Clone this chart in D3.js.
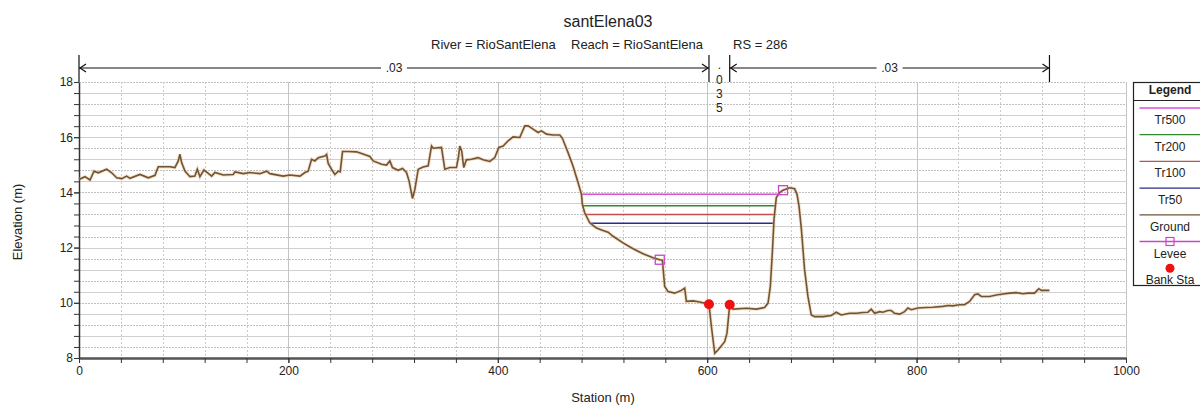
<!DOCTYPE html>
<html>
<head>
<meta charset="utf-8">
<script src="https://cdn.jsdelivr.net/npm/d3@7"></script>
<style>
body { margin: 0; background: #fff; }
svg { font-family: "Liberation Sans", Arial, sans-serif; }
</style>
</head>
<body>
<div id="chart"></div>
<script>
// ground profile (station m, elevation m)
const groundStation = [0, 5.7, 10.5, 14.3, 18.4, 26.4, 31.2, 36, 40.8, 45.5, 48.7, 58.2, 66.2, 72.6, 75.7, 86.9, 91.6, 94.8, 96.4, 98,
  101.2, 106, 110.7, 113, 115.5, 119.3, 123.5, 126.7, 129.8, 137.8, 147.3, 148.9, 156.9, 163.2, 172.8, 179.2, 182.3, 195, 201.4, 211,
  215.8, 218.9, 222.1, 225.3, 228.5, 234.8, 236.5, 238, 241.2, 244.4, 247.6, 249.5, 251.7, 257.1, 265, 269.9, 277.8, 281, 289, 293.7,
  296.9, 299.4, 304.8, 309, 312.8, 315.3, 318.5, 320.8, 324, 328.7, 333.5, 336.7, 338.3, 346.2, 349.4, 354.2, 360.5, 362.5, 363.7, 365.5,
  367.5, 370, 374.9, 381.2, 386, 392.4, 397.1, 401, 405.1, 409.9, 414.6, 421, 425.8, 429, 433.7, 438.5, 441.7, 446.5, 452.8, 459.2,
  461.7, 467.1, 471.9, 476.7, 479.9, 480.8, 483, 487.8, 494.2, 500.5, 505.3, 510.1, 519.6, 529.2, 538.7, 548.3, 554.7, 557.2, 559.4, 562.6,
  569, 575.3, 578.5, 580.1, 586.5, 592.8, 601.7, 604, 607.2, 610.3, 616.7, 618.9, 621.5, 624.7, 637.4, 647, 654.9, 658.1, 660.3, 662.2,
  663.8, 666, 669.2, 672.4, 678.8, 683.5, 685.8, 687.7, 690, 693, 696.2, 699.4, 702.6, 710.6, 718.5, 723.3, 728.1, 736, 742.4, 748.7,
  753.5, 756.7, 759.9, 764.7, 767.8, 772.6, 775.8, 779, 783.8, 788.5, 791.7, 794.9, 801.3, 809.2, 815.6, 825.1, 829.9, 834.6, 841, 845.8,
  850.6, 855.4, 858.5, 861.8, 869.7, 876.1, 882.4, 888.8, 895.2, 901.5, 906.3, 912.6, 916.8, 919, 926.9]
const groundElev = [14.47, 14.57, 14.45, 14.77, 14.71, 14.84, 14.71, 14.53, 14.5, 14.59, 14.51, 14.65, 14.53, 14.62, 14.93, 14.93, 14.9, 15.14, 15.38, 15.08,
  14.77, 14.57, 14.59, 14.84, 14.57, 14.81, 14.69, 14.59, 14.72, 14.63, 14.65, 14.74, 14.68, 14.72, 14.68, 14.77, 14.68, 14.59, 14.63, 14.59,
  14.72, 14.77, 15.2, 15.14, 15.26, 15.32, 15.38, 15.05, 14.84, 14.65, 14.77, 14.75, 15.48, 15.48, 15.47, 15.41, 15.3, 15.14, 15.02, 14.99,
  15.14, 14.9, 14.8, 14.87, 14.72, 14.41, 13.78, 14.11, 14.84, 14.92, 14.96, 15.68, 15.6, 15.63, 14.84, 14.9, 14.9, 15.3, 15.68, 15.5,
  14.9, 15.18, 15.2, 15.26, 15.18, 15.12, 15.26, 15.63, 15.68, 15.87, 16.01, 15.99, 16.41, 16.41, 16.29, 16.17, 16.23, 16.11, 16.08, 16.08,
  15.96, 15.44, 14.95, 14.35, 13.93, 13.56, 13.26, 12.9, 12.71, 12.62, 12.56, 12.41, 12.17, 11.96, 11.78, 11.63, 11.56, 11.54, 10.59, 10.41,
  10.35, 10.45, 10.53, 10.05, 10.07, 10.03, 9.95, 9.14, 8.17, 8.29, 8.59, 8.9, 9.93, 9.77, 9.8, 9.77, 9.83, 9.99, 10.59, 11.81,
  13.02, 13.81, 13.99, 14.08, 14.17, 14.13, 13.93, 13.5, 12.65, 11.2, 10.23, 9.56, 9.5, 9.5, 9.54, 9.66, 9.56, 9.62, 9.62, 9.65,
  9.66, 9.77, 9.62, 9.68, 9.66, 9.72, 9.72, 9.62, 9.59, 9.68, 9.81, 9.75, 9.81, 9.83, 9.84, 9.87, 9.9, 9.89, 9.93, 9.93,
  10.05, 10.29, 10.32, 10.23, 10.23, 10.28, 10.32, 10.35, 10.37, 10.33, 10.35, 10.35, 10.51, 10.45, 10.45]

// water surface profiles
const profileNames = ['Tr500', 'Tr200', 'Tr100', 'Tr50']
const profileWS = [13.93, 13.52, 13.2, 12.88]
const profileColors = ['#d84fd8', '#2e8a2e', '#c0504d', '#2b2b88']

const leveeStation = [554.7, 672.4]
const leveeElev = [11.56, 14.08]
const bankStation = [601.7, 621.5]
const nBreaks = [0, 601.7, 621.5, 926.9]
const nValues = ['.03', '.035', '.03']

const xTicks = [0, 200, 400, 600, 800, 1000]
const yTicks = [8, 10, 12, 14, 16, 18]

const width = 1200, height = 405
const groundColor = '#6f5536'

const svg = d3.select('#chart').append('svg')
  .attr('width', width)
  .attr('height', height)

const x = d3.scaleLinear().domain([0, 1000]).range([79, 1126])
const y = d3.scaleLinear().domain([8, 18]).range([358, 82])

const ground = groundStation.map((s, i) => ({ s: s, e: groundElev[i] }))
const groundAt = s => {
  const i = d3.bisector(d => d.s).left(ground, s)
  if (i <= 0) return ground[0].e
  if (i >= ground.length) return ground[ground.length - 1].e
  const a = ground[i - 1], b = ground[i]
  return a.e + (b.e - a.e) * (s - a.s) / (b.s - a.s)
}

// grid
const xMinor = d3.range(0, 1001, 40)
const yMinor = d3.range(0, 26).map(i => 8 + i * 0.4)
const grid = svg.append('g')
grid.selectAll('.hg').data(yMinor).enter().append('line')
  .attr('x1', x(0)).attr('x2', x(1000))
  .attr('y1', d => Math.round(y(d)) + 0.5).attr('y2', d => Math.round(y(d)) + 0.5)
  .attr('stroke', (d, i) => i % 2 ? '#c0c0c0' : '#d0d0d0')
  .attr('stroke-dasharray', (d, i) => i % 2 ? '2,1' : null)
grid.selectAll('.vg').data(xMinor).enter().append('line')
  .attr('y1', y(18)).attr('y2', y(8))
  .attr('x1', d => Math.round(x(d)) + 0.5).attr('x2', d => Math.round(x(d)) + 0.5)
  .attr('stroke', (d, i) => i % 5 === 0 ? '#c4c4c4' : '#cacaca')
  .attr('stroke-dasharray', (d, i) => i % 5 === 0 ? null : '2,2')

// axes
const xAxis = svg.append('g')
  .attr('transform', `translate(0,${y(8)})`)
  .call(d3.axisBottom(x).tickValues(xTicks).tickFormat(d3.format('d')).tickSize(5).tickSizeOuter(0).tickPadding(3))
svg.append('g')
  .attr('transform', `translate(0,${y(8)})`)
  .call(d3.axisBottom(x).tickValues(xMinor).tickSize(5).tickFormat(''))
  .call(g => g.select('.domain').remove())
const yAxis = svg.append('g')
  .attr('transform', `translate(${x(0)},0)`)
  .call(d3.axisLeft(y).tickValues(yTicks).tickSize(5).tickSizeOuter(0).tickPadding(1))
svg.append('g')
  .attr('transform', `translate(${x(0)},0)`)
  .call(d3.axisLeft(y).tickValues(yMinor).tickSize(5).tickFormat(''))
  .call(g => g.select('.domain').remove())

svg.selectAll('.tick text').attr('font-size', 12).attr('fill', '#222')
  .style('font-family', '"Liberation Sans", Arial, sans-serif')
svg.selectAll('.tick line').attr('stroke', '#333')
xAxis.select('.domain').attr('stroke', '#555').attr('stroke-width', 2.5)
yAxis.select('.domain').attr('stroke', '#333').attr('stroke-width', 1.5)

// water surfaces, bounded by ground crossings around the channel
const crossing = (ws, from, dir) => {
  let prev = null
  const pts = dir < 0 ? ground.filter(d => d.s <= from).reverse() : ground.filter(d => d.s >= from)
  for (const p of pts) {
    if (p.e >= ws) {
      if (!prev) return p.s
      return prev.s + (p.s - prev.s) * (ws - prev.e) / (p.e - prev.e)
    }
    prev = p
  }
  return prev.s
}
const channelMid = (bankStation[0] + bankStation[1]) / 2
svg.append('g').selectAll('line')
  .data(profileWS)
  .enter().append('line')
  .attr('x1', d => x(crossing(d, channelMid, -1)))
  .attr('x2', d => x(crossing(d, channelMid, 1)))
  .attr('y1', d => y(d)).attr('y2', d => y(d))
  .attr('stroke', (d, i) => profileColors[i])
  .attr('stroke-width', 1.5)

// ground
const line = d3.line().x(d => x(d.s)).y(d => y(d.e))
svg.append('path').datum(ground)
  .attr('d', line).attr('fill', 'none')
  .attr('stroke', '#eab27a').attr('stroke-width', 3.5).attr('opacity', 0.4)
svg.append('path').datum(ground)
  .attr('d', line).attr('fill', 'none')
  .attr('stroke', groundColor).attr('stroke-width', 1.6)

// levees
svg.append('g').selectAll('rect')
  .data(leveeStation)
  .enter().append('rect')
  .attr('x', d => x(d) - 4.5).attr('y', (d, i) => y(leveeElev[i]) - 4.5)
  .attr('width', 9).attr('height', 9)
  .attr('fill', 'none').attr('stroke', '#cc44cc').attr('stroke-width', 1.3)

// bank stations
svg.append('g').selectAll('circle')
  .data(bankStation)
  .enter().append('circle')
  .attr('cx', d => x(d)).attr('cy', d => y(groundAt(d)))
  .attr('r', 5).attr('fill', '#ee1111')

// manning's n bars above the plot
const nTop = 55, nY = 68
const nGroup = svg.append('g').attr('stroke', '#111').attr('stroke-width', 1.2)
nGroup.selectAll('.bar').data(nBreaks).enter().append('line')
  .attr('x1', d => x(d)).attr('x2', d => x(d))
  .attr('y1', nTop).attr('y2', y(18))
nValues.forEach((v, i) => {
  const a = x(nBreaks[i]), b = x(nBreaks[i + 1])
  const mid = (a + b) / 2
  if (b - a > 60) {
    nGroup.append('line').attr('x1', a).attr('x2', b).attr('y1', nY).attr('y2', nY)
    nGroup.append('path').attr('fill', 'none')
      .attr('d', `M${a + 7},${nY - 4}L${a + 1},${nY}L${a + 7},${nY + 4}M${b - 7},${nY - 4}L${b - 1},${nY}L${b - 7},${nY + 4}`)
    svg.append('rect').attr('x', mid - 13).attr('y', nY - 7).attr('width', 26).attr('height', 14).attr('fill', '#fff')
    svg.append('text').attr('x', mid).attr('y', nY + 4).attr('text-anchor', 'middle')
      .attr('font-size', 12).attr('fill', '#222').text(v)
  } else {
    svg.append('g').selectAll('text')
      .data(v.split(''))
      .enter().append('text')
      .attr('x', mid).attr('y', (d, j) => j === 0 ? 69 : 70 + j * 14)
      .attr('text-anchor', 'middle').attr('font-size', 12).attr('fill', '#222')
      .text(d => d)
  }
})

// titles
svg.append('text').attr('x', 608).attr('y', 27).attr('text-anchor', 'middle')
  .attr('font-size', 16).attr('fill', '#222').text('santElena03')
const sub = [['River = RioSantElena', 431], ['Reach = RioSantElena', 571], ['RS = 286', 733]]
svg.append('g').selectAll('text').data(sub).enter().append('text')
  .attr('x', d => d[1]).attr('y', 49).attr('font-size', 13).attr('fill', '#222')
  .text(d => d[0])
svg.append('text').attr('transform', 'translate(22,222) rotate(-90)')
  .attr('text-anchor', 'middle').attr('font-size', 13).attr('fill', '#222').text('Elevation (m)')
svg.append('text').attr('x', 603).attr('y', 402).attr('text-anchor', 'middle')
  .attr('font-size', 13).attr('fill', '#222').text('Station (m)')

// legend
const lg = svg.append('g')
const lx = 1133.5, lw = 90, lcx = 1170
lg.append('rect').attr('x', lx).attr('y', 82.5).attr('width', lw).attr('height', 203)
  .attr('fill', '#fff').attr('stroke', '#222').attr('stroke-width', 1.2)
lg.append('text').attr('x', lcx).attr('y', 94).attr('text-anchor', 'middle')
  .attr('font-size', 12).attr('font-weight', 'bold').attr('fill', '#222').text('Legend')
lg.append('line').attr('x1', lx).attr('x2', lx + lw).attr('y1', 100.5).attr('y2', 100.5).attr('stroke', '#222')
const legendItems = profileNames.map((n, i) => ({ name: n, color: profileColors[i], kind: 'line' }))
  .concat([{ name: 'Ground', color: groundColor, kind: 'line' },
           { name: 'Levee', color: '#cc44cc', kind: 'levee' },
           { name: 'Bank Sta', color: '#ee1111', kind: 'dot' }])
const li = lg.selectAll('.li').data(legendItems).enter().append('g')
  .attr('transform', (d, i) => `translate(0,${108 + i * 26.7})`)
li.filter(d => d.kind !== 'dot').append('line')
  .attr('x1', lx + 6).attr('x2', lx + lw).attr('y1', 0).attr('y2', 0)
  .attr('stroke', d => d.color).attr('stroke-width', 1.3)
li.filter(d => d.kind === 'levee').append('rect')
  .attr('x', lcx - 4).attr('y', -4).attr('width', 8).attr('height', 8)
  .attr('fill', 'none').attr('stroke', d => d.color).attr('stroke-width', 1.2)
li.filter(d => d.kind === 'dot').append('circle')
  .attr('cx', lcx).attr('cy', 0).attr('r', 4.5).attr('fill', d => d.color)
li.append('text').attr('x', lcx).attr('y', 16).attr('text-anchor', 'middle')
  .attr('font-size', 12).attr('fill', '#222').text(d => d.name)
</script>
</body>
</html>
